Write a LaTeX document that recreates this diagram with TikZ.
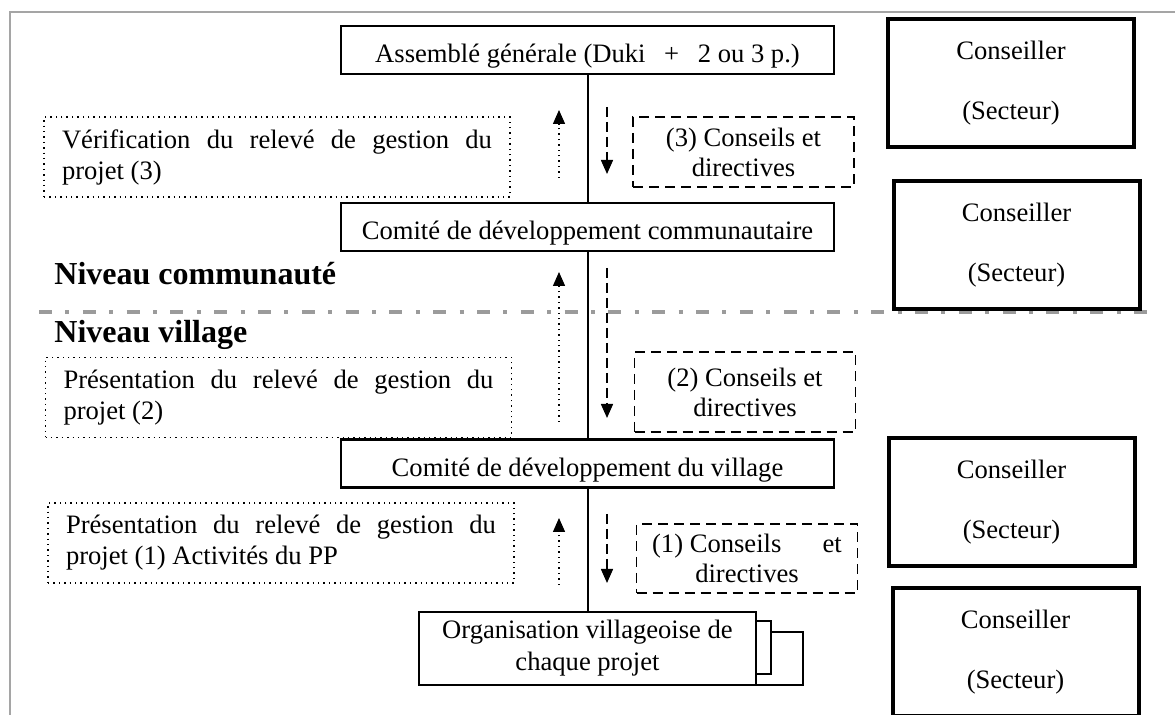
\documentclass[tikz,border=0pt]{standalone}
\usepackage{fontspec}
\setmainfont{Liberation Serif}
\usepackage{tikz}
\usetikzlibrary{arrows.meta,positioning}
\hyphenpenalty=10000
\tolerance=10000
\definecolor{framegray}{RGB}{165,165,165}
\definecolor{levelgray}{RGB}{155,155,155}
\tikzset{
    mainbox/.style={draw, line width=1.1pt, fill=white, minimum width=246.5pt, minimum height=24pt, inner ysep=0pt, text height=18.5pt, text depth=5.5pt},
    advbox/.style={draw, line width=2pt, minimum width=123pt, minimum height=64pt, align=center, font=\fontsize{13.3}{30}\selectfont},
    notebox/.style={draw, dotted, line width=0.7pt, text width=215pt, inner xsep=9pt, minimum height=40pt, align=justify, font=\fontsize{13.3}{15.5}\selectfont},
    advicebox/.style={draw, dash pattern=on 5pt off 3pt, line width=0.9pt, minimum width=110.5pt, align=center, font=\fontsize{13.3}{15}\selectfont},
    uparrow/.style={-{Triangle[length=7pt,width=6pt]}, dotted, line width=0.7pt},
    downarrow/.style={-{Triangle[length=7pt,width=6pt]}, dash pattern=on 5pt off 2.5pt, line width=0.8pt},
    spine/.style={line width=1pt},
    levelline/.style={draw=levelgray, line width=1.6pt, dash pattern=on 6.5pt off 6.7pt on 2pt off 6.7pt},
    levellabel/.style={anchor=base west, inner sep=0pt, font=\bfseries\fontsize{16}{19}\selectfont}
}

\begin{document}
\begin{tikzpicture}[x=0.5pt, y=-0.5pt, font=\fontsize{13.3}{16}\selectfont]
    \useasboundingbox (0,0) rectangle (1175,715);
    \draw[framegray, line width=1pt] (10,715) -- (10,12) -- (1175,12);
    \draw[levelline] (39,312) -- (1155,312);

    \node[mainbox] (ag) at (587.5,50) {Assemblé générale (Duki\hspace{0.7em}+\hspace{0.7em}2 ou 3 p.)};
    \node[mainbox] (cdc) at (587.5,227) {Comité de développement communautaire};
    \node[mainbox] (cdv) at (587.5,463.5) {Comité de développement du village};
    \draw[line width=1.1pt, fill=white] (440,632) rectangle (803,685);
    \draw[line width=1.1pt, fill=white] (430,621) rectangle (771,674);
    \node[draw, line width=1.1pt, fill=white, minimum width=168.5pt, minimum height=36.5pt, align=center, font=\fontsize{13.3}{16}\selectfont] (ov) at (587.5,648.5) {Organisation villageoise de\\chaque projet};

    \draw[spine] (ag) -- (cdc);
    \draw[spine] (cdc) -- (cdv);
    \draw[spine] (cdv) -- (ov);

    \node[advbox] (cons1) at (1011,83.5) {Conseiller\\(Secteur)};
    \node[advbox] (cons2) at (1016.5,245) {Conseiller\\(Secteur)};
    \node[advbox] (cons3) at (1011.5,502.5) {Conseiller\\(Secteur)};
    \node[advbox] (cons4) at (1015.5,652) {Conseiller\\(Secteur)};

    \node[notebox] (verif) at (277,157) {Vérification du relevé de gestion du projet (3)};
    \node[notebox] (pres2) at (278.5,397.5) {Présentation du relevé de gestion du projet (2)};
    \node[notebox] (pres1) at (281,543) {Présentation du relevé de gestion du projet (1) Activités du PP};

    \node[advicebox, minimum height=35pt] (adv3) at (743.5,152) {(3) Conseils et\\directives};
    \node[advicebox, minimum height=40pt] (adv2) at (745,392) {(2) Conseils et\\directives};
    \node[advicebox, minimum height=34.5pt] (adv1) at (747,558.5) {(1) Conseils\hspace{1.3em} et\\directives};

    \node[levellabel] (lvlcom) at (54,285) {Niveau communauté};
    \node[levellabel] (lvlvil) at (54,343) {Niveau village};

    \coordinate (up3a) at (559,178);
    \coordinate (up3b) at (559,110);
    \coordinate (up2a) at (559,422);
    \coordinate (up2b) at (559,272);
    \coordinate (up1a) at (559,585);
    \coordinate (up1b) at (559,518);
    \coordinate (dn3a) at (607,107);
    \coordinate (dn3b) at (607,174);
    \coordinate (dn2a) at (607,268);
    \coordinate (dn2b) at (607,418);
    \coordinate (dn1a) at (607,514);
    \coordinate (dn1b) at (607,583);
    \draw[uparrow] (up3a) -- (up3b);
    \draw[uparrow] (up2a) -- (up2b);
    \draw[uparrow] (up1a) -- (up1b);
    \draw[downarrow] (dn3a) -- (dn3b);
    \draw[downarrow] (dn2a) -- (dn2b);
    \draw[downarrow] (dn1a) -- (dn1b);
\end{tikzpicture}
\end{document}
